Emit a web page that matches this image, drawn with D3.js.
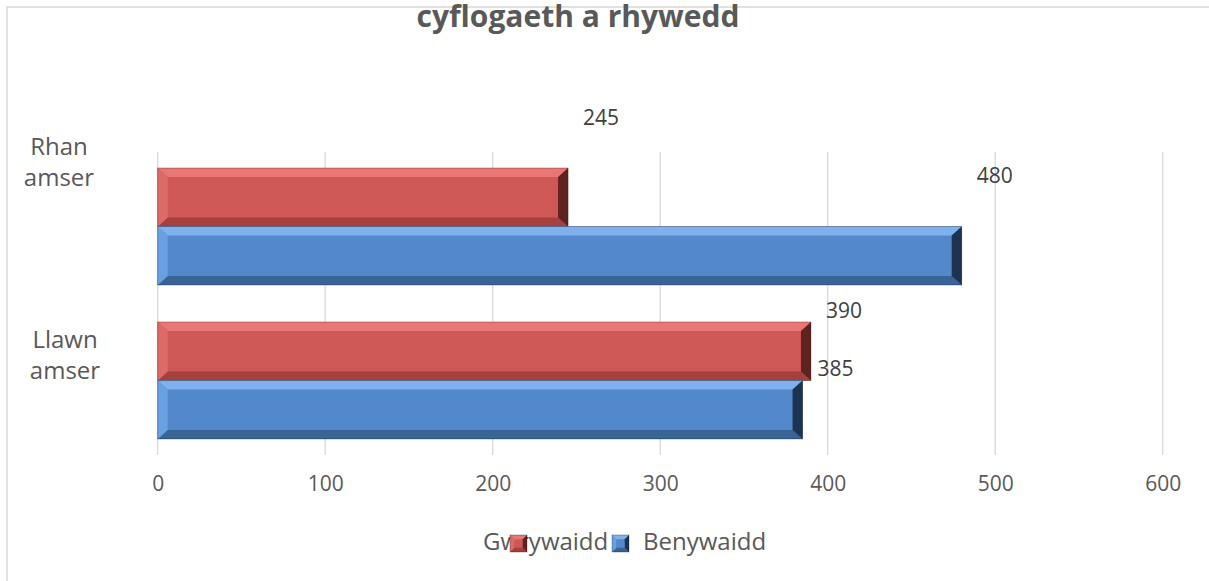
<!DOCTYPE html>
<html>
<head>
<meta charset="utf-8">
<script src="https://cdn.jsdelivr.net/npm/d3@7"></script>
<style>
  html, body { margin: 0; padding: 0; background: #fff; }
  svg { display: block; }
  text { font-family: "Open Sans", "Noto Sans", sans-serif; }
</style>
</head>
<body>
<svg id="chart" width="1209" height="581"></svg>
<script>
// ---- data ----
const title = "cyflogaeth a rhywedd";
const categories = ["Rhan amser", "Llawn amser"];
const categoryLines = [["Rhan", "amser"], ["Llawn", "amser"]];
const seriesNames = ["Gwrywaidd", "Benywaidd"];
const gwrywaidd = [245, 390];
const benywaidd = [480, 385];
const xTicks = [0, 100, 200, 300, 400, 500, 600];

// ---- style / layout ----
const W = 1209, H = 581;
const palette = {
  Gwrywaidd: { main: "#CD5855", top: "#EA7773", bottom: "#A4403D", left: "#DC6A66", right: "#5E2220" },
  Benywaidd: { main: "#5388CA", top: "#7FB1EE", bottom: "#3B6496", left: "#68A0E1", right: "#1C3452" }
};
const labelLift = [80, 41];       // data-label offsets per category (as in the source picture)
const catLabelLift = [69, 30];
const catLabelX = [59, 65];

const svg = d3.select("#chart");

// chart border
svg.append("rect").attr("x", 7).attr("y", 7).attr("width", W + 20).attr("height", H + 20)
  .attr("fill", "#fff").attr("stroke", "#d9d9d9").attr("stroke-width", 1.5);

const x = d3.scaleLinear().domain([0, 600]).range([157.7, 1162.7]);
const y = d3.scaleBand().domain(categories).range([152, 455]).paddingInner(0.24).paddingOuter(0.104);
const ySub = d3.scaleBand().domain(seriesNames).range([0, y.bandwidth()]).padding(0);

// gridlines
svg.append("g").selectAll("line").data(xTicks).join("line")
  .attr("x1", d => x(d)).attr("x2", d => x(d))
  .attr("y1", 152).attr("y2", 455)
  .attr("stroke", "#d9d9d9").attr("stroke-width", 1.3);

// x axis labels
const xAxis = d3.axisBottom(x).tickValues(xTicks).tickSize(0).tickPadding(0).tickFormat(d3.format("d"));
const gx = svg.append("g").attr("transform", "translate(0,476)").call(xAxis);
gx.select(".domain").remove();
gx.selectAll("text").attr("fill", "#595959").style("font-size", "21px")
  .style("font-family", '"Open Sans", sans-serif').attr("dy", "0.71em");

// bevel bar
function bevelBar(g, x0, x1, y0, y1, c) {
  const bt = Math.min(9, (y1 - y0) / 4), bs = Math.min(10, (x1 - x0) / 4);
  g.append("rect").attr("x", x0).attr("y", y0).attr("width", x1 - x0).attr("height", y1 - y0).attr("fill", c.main);
  const poly = (pts, fill) => g.append("polygon").attr("points", pts.map(p => p.join(",")).join(" ")).attr("fill", fill);
  poly([[x0, y0], [x1, y0], [x1 - bs, y0 + bt], [x0 + bs, y0 + bt]], c.top);
  poly([[x0, y1], [x1, y1], [x1 - bs, y1 - bt], [x0 + bs, y1 - bt]], c.bottom);
  poly([[x0, y0], [x0 + bs, y0 + bt], [x0 + bs, y1 - bt], [x0, y1]], c.left);
  poly([[x1, y0], [x1 - bs, y0 + bt], [x1 - bs, y1 - bt], [x1, y1]], c.right);
  g.append("rect").attr("x", x0).attr("y", y0).attr("width", x1 - x0).attr("height", y1 - y0)
    .attr("fill", "none").attr("stroke", "rgba(0,0,0,0.35)").attr("stroke-width", 0.8);
}

// bars
const rows = [];
categories.forEach((cat, i) => {
  rows.push({ cat, i, s: "Gwrywaidd", v: gwrywaidd[i] });
  rows.push({ cat, i, s: "Benywaidd", v: benywaidd[i] });
});
const gBars = svg.append("g");
rows.forEach(d => {
  const y0 = y(d.cat) + ySub(d.s);
  bevelBar(gBars.append("g"), x(0), x(d.v), y0, y0 + ySub.bandwidth(), palette[d.s]);
});

// data labels
svg.append("g").selectAll("text").data(rows).join("text")
  .attr("x", d => x(d.v) + 33)
  .attr("y", d => y(d.cat) + ySub(d.s) + ySub.bandwidth() / 2 - labelLift[d.i])
  .attr("dy", "0.35em")
  .attr("text-anchor", "middle")
  .attr("fill", "#404040").style("font-size", "21px")
  .text(d => d.v);

// category labels
const gCat = svg.append("g");
categories.forEach((cat, i) => {
  const cy = y(cat) + y.bandwidth() / 2 - catLabelLift[i];
  const t = gCat.append("text").attr("x", catLabelX[i]).attr("y", cy)
    .attr("text-anchor", "middle").attr("fill", "#595959").style("font-size", "24px");
  categoryLines[i].forEach((ln, k) => {
    t.append("tspan").attr("x", catLabelX[i]).attr("dy", k === 0 ? "-0.1em" : "1.3em").text(ln);
  });
});

// title
svg.append("text").attr("x", 578).attr("y", 27).attr("text-anchor", "middle")
  .attr("fill", "#595959").style("font-size", "30px").style("font-weight", "bold")
  .text(title);

// legend
const gLeg = svg.append("g");
gLeg.append("text").attr("x", 483).attr("y", 550).attr("fill", "#595959").style("font-size", "24px").text(seriesNames[0]);
gLeg.append("text").attr("x", 643).attr("y", 550).attr("fill", "#595959").style("font-size", "24px").text(seriesNames[1]);
bevelBar(gLeg.append("g"), 510, 527, 535, 552, palette.Gwrywaidd);
bevelBar(gLeg.append("g"), 612, 629, 535, 552, palette.Benywaidd);
</script>
</body>
</html>
